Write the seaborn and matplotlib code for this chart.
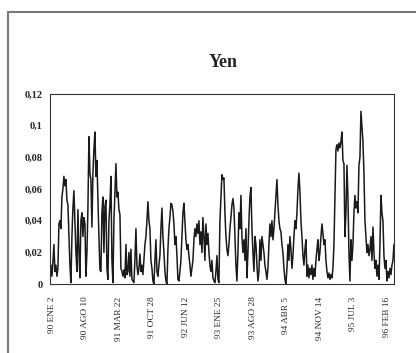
import numpy as np
import pandas as pd
import matplotlib
matplotlib.use('Agg')
import matplotlib.pyplot as plt
from matplotlib.patches import Rectangle
from matplotlib.ticker import FuncFormatter
import seaborn as sns

# Yen series (thousandths), one value per sample
yen_thousandths = [
    7, 12, 5, 14, 25, 8, 12, 5, 10, 38, 40, 35, 55, 60, 68, 62, 66, 53, 50, 30,
    12, 1, 30, 48, 59, 40, 20, 8, 47, 20, 4, 40, 45, 30, 42, 38, 5, 20, 48, 93,
    70, 66, 36, 70, 85, 96, 68, 78, 53, 30, 9, 8, 45, 55, 20, 49, 53, 10, 3, 40,
    50, 68, 15, 1, 40, 58, 76, 55, 58, 47, 44, 10, 8, 5, 9, 4, 25, 6, 8, 20,
    5, 22, 3, 2, 1, 15, 35, 12, 6, 10, 19, 8, 12, 6, 15, 25, 30, 40, 52, 40,
    35, 15, 10, 2, 0, 15, 28, 8, 5, 12, 18, 35, 48, 30, 20, 8, 2, 0, 22, 35,
    42, 51, 50, 46, 38, 25, 30, 18, 3, 2, 8, 15, 30, 45, 51, 40, 28, 22, 25, 18,
    12, 5, 10, 15, 28, 35, 30, 38, 32, 40, 25, 33, 20, 42, 30, 15, 38, 25, 32, 20,
    12, 8, 15, 4, 2, 1, 8, 18, 3, 1, 40, 55, 69, 66, 67, 45, 30, 22, 18, 25,
    35, 42, 50, 54, 48, 30, 12, 2, 20, 45, 35, 56, 30, 20, 28, 15, 35, 4, 20, 40,
    55, 61, 35, 20, 8, 30, 25, 12, 2, 8, 28, 15, 30, 25, 20, 12, 8, 3, 10, 25,
    38, 30, 40, 28, 35, 45, 55, 66, 50, 40, 35, 33, 25, 20, 10, 3, 0, 10, 25, 15,
    30, 22, 10, 18, 30, 40, 35, 45, 60, 70, 58, 40, 30, 18, 12, 22, 28, 5, 12, 4,
    10, 6, 12, 3, 10, 5, 15, 22, 28, 15, 20, 30, 38, 32, 25, 28, 15, 8, 4, 7,
    3, 6, 4, 10, 25, 55, 85, 88, 84, 89, 86, 90, 96, 78, 76, 30, 45, 75, 55, 20,
    2, 28, 15, 25, 45, 56, 48, 52, 45, 75, 80, 109, 100, 90, 70, 40, 30, 20, 25, 18,
    22, 30, 15, 36, 20, 10, 15, 5, 12, 3, 25, 56, 45, 40, 18, 10, 15, 2, 8, 4,
    10, 6, 12, 15, 25,
]

tick_labels = ['90 ENE 2', '90 AGO 10', '91 MAR 22', '91 OCT 28', '92 JUN 12',
               '93 ENE 25', '93 AGO 28', '94 ABR 5', '94 NOV 14', '95 JUL 3',
               '96 FEB 16']

df = pd.DataFrame({'obs': np.arange(len(yen_thousandths)),
                   'yen': np.array(yen_thousandths) / 1000.0})

sns.set_style('white')
plt.rcParams['font.family'] = ['Liberation Serif', 'DejaVu Serif']

fig = plt.figure(figsize=(4.16, 3.53), dpi=100)
ax = fig.add_axes([0.120, 0.195, 0.827, 0.539])

sns.lineplot(data=df, x='obs', y='yen', ax=ax, color='#1a1a1a', linewidth=1.1)

ax.set_xlim(0, len(yen_thousandths) - 1)
ax.set_ylim(0, 0.12)
ax.set_yticks([0, 0.02, 0.04, 0.06, 0.08, 0.1, 0.12])
ax.yaxis.set_major_formatter(FuncFormatter(lambda v, p: f'{v:g}'.replace('.', ',')))

step = 33.5
ax.set_xticks(2 + step * np.arange(len(tick_labels)))
ax.set_xticklabels(tick_labels, rotation=90, fontsize=6.7)
ax.tick_params(axis='y', labelsize=7.5, length=3, width=0.8, direction='out', pad=2)
ax.tick_params(axis='x', length=3, width=0.8, direction='out', pad=6)
for lab in ax.get_yticklabels():
    lab.set_fontweight('bold')

ax.set_xlabel('')
ax.set_ylabel('')
for s in ax.spines.values():
    s.set_color('#333333')
    s.set_linewidth(0.8)

fig.text(0.536, 0.824, 'Yen', ha='center', va='center', fontsize=13, fontweight='bold')

# outer frame of the scanned page
fig.patches.append(Rectangle((8 / 416, -0.2), 1.2, 1.2 - 12 / 353,
                             transform=fig.transFigure, fill=False,
                             edgecolor='#777777', linewidth=1.5))

fig.savefig('out.png', dpi=100)
